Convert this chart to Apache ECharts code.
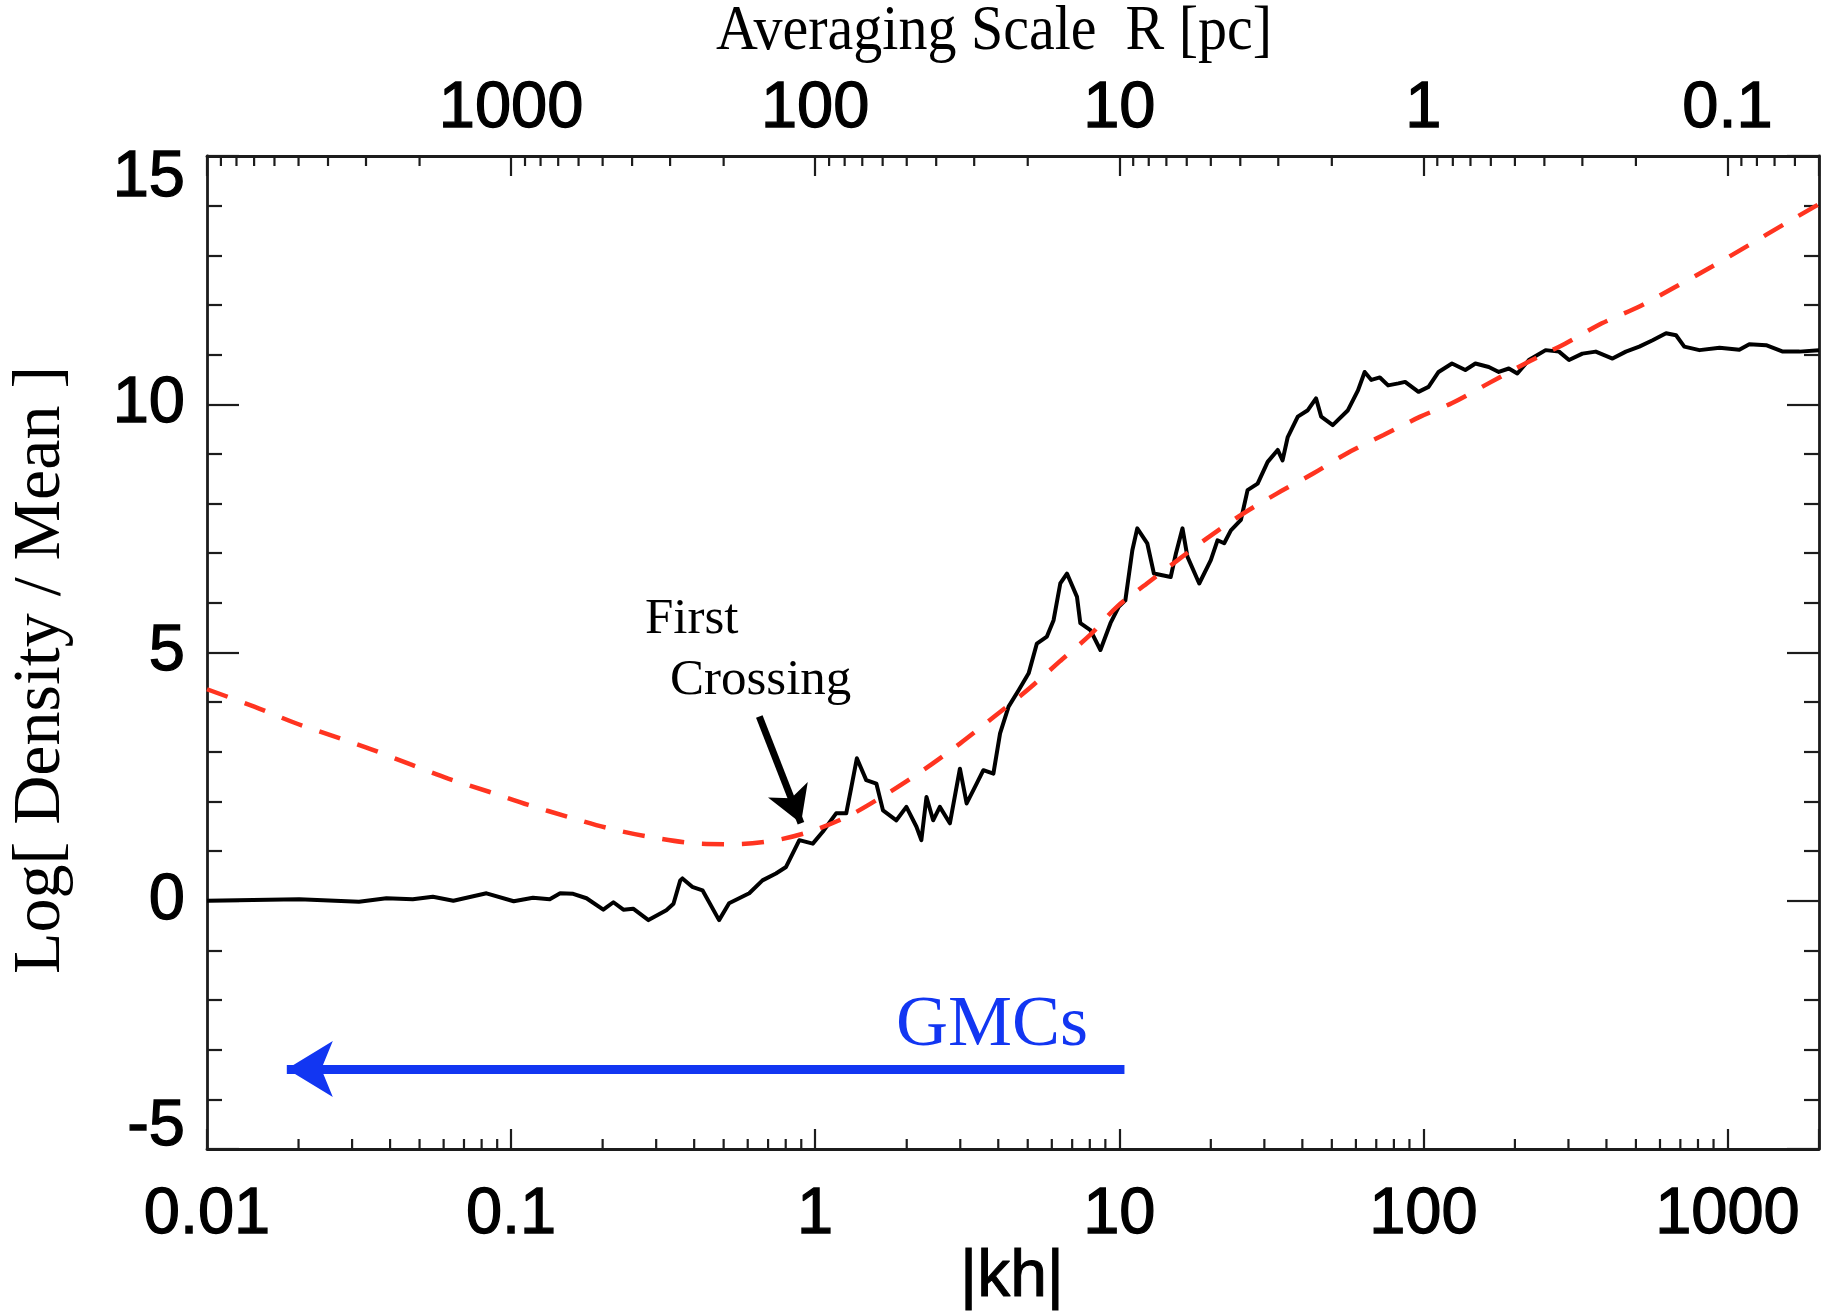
<!DOCTYPE html>
<html>
<head>
<meta charset="utf-8">
<script src="https://cdn.jsdelivr.net/npm/echarts@6/dist/echarts.min.js"></script>
<style>
  html, body { margin: 0; padding: 0; background: #fff; }
  #chart { width: 1834px; height: 1315px; }
</style>
</head>
<body>
<div id="chart"></div>
<script>
// Density contrast along one random walk in |kh|, and the critical density curve.
const khWalk = [0.01, 0.0201, 0.0316, 0.0389, 0.0475, 0.0553, 0.0646, 0.0830, 0.102, 0.118,
  0.134, 0.145, 0.160, 0.177, 0.201, 0.217, 0.234, 0.252, 0.283, 0.324,
  0.342, 0.360, 0.366, 0.394, 0.426, 0.483, 0.521, 0.607, 0.671, 0.743,
  0.802, 0.843, 0.887, 0.982, 1.059, 1.172, 1.265, 1.315, 1.371, 1.472,
  1.589, 1.671, 1.849, 1.995, 2.153, 2.234, 2.323, 2.443, 2.570, 2.773,
  2.992, 3.148, 3.396, 3.573, 3.855, 4.055, 4.325, 4.667, 5.035, 5.358,
  5.781, 6.081, 6.397, 6.730, 7.261, 7.447, 8.035, 8.670, 9.354, 9.954,
  10.47, 11.04, 11.46, 12.36, 13.00, 14.76, 15.35, 16.14, 16.75, 18.32,
  20.00, 21.04, 22.13, 23.28, 25.12, 26.42, 28.51, 30.76, 33.19, 34.43,
  35.81, 38.64, 41.69, 44.36, 46.13, 50.35, 56.49, 60.95, 64.12, 67.45,
  71.94, 76.56, 82.79, 87.10, 96.38, 104.0, 112.2, 124.2, 137.4, 148.3,
  164.1, 177.0, 191.0, 203.7, 222.3, 252.4, 279.3, 301.3, 333.4, 368.9,
  418.8, 463.4, 512.9, 567.5, 628.1, 677.5, 721.1, 809.1, 941.9, 1094,
  1180, 1340, 1521, 1726, 2000];
const logDensityWalk = [0, 0.03, -0.02, 0.05, 0.03, 0.08, 0.0, 0.15, -0.01, 0.06,
  0.03, 0.15, 0.14, 0.05, -0.18, -0.03, -0.18, -0.16, -0.39, -0.19,
  -0.06, 0.41, 0.45, 0.28, 0.21, -0.39, -0.05, 0.15, 0.41, 0.55,
  0.68, 0.95, 1.22, 1.15, 1.39, 1.76, 1.76, 2.29, 2.87, 2.43,
  2.36, 1.82, 1.62, 1.89, 1.49, 1.22, 2.09, 1.62, 1.89, 1.56,
  2.66, 1.96, 2.36, 2.63, 2.56, 3.37, 3.91, 4.24, 4.58, 5.18,
  5.32, 5.65, 6.39, 6.59, 6.12, 5.59, 5.45, 5.05, 5.59, 5.92,
  6.05, 7.06, 7.50, 7.20, 6.59, 6.52, 6.99, 7.50, 6.93, 6.39,
  6.86, 7.26, 7.20, 7.46, 7.67, 8.27, 8.40, 8.84, 9.08, 8.87,
  9.34, 9.75, 9.88, 10.12, 9.75, 9.58, 9.88, 10.28, 10.65, 10.49,
  10.54, 10.38, 10.42, 10.45, 10.25, 10.35, 10.65, 10.82, 10.69, 10.82,
  10.75, 10.65, 10.72, 10.62, 10.89, 11.09, 11.06, 10.89, 11.02, 11.06,
  10.92, 11.06, 11.16, 11.29, 11.43, 11.39, 11.16, 11.09, 11.14, 11.10,
  11.21, 11.19, 11.06, 11.06, 11.09];

const khCrit = [0.01, 0.0143, 0.0195, 0.0259, 0.0347, 0.0465, 0.0621, 0.0851, 0.114, 0.154,
  0.209, 0.283, 0.417, 0.550, 0.728, 0.959, 1.300, 1.758, 2.265, 2.999,
  3.864, 4.977, 6.397, 8.035, 9.817, 12.33, 15.49, 19.41, 25.59, 32.96,
  43.55, 55.98, 73.96, 97.72, 123.9, 163.7, 216.3, 292.4, 386.4, 509.3,
  673.0, 887.2, 1172, 1549, 2000];
const logDensityCrit = [4.26, 3.91, 3.58, 3.32, 3.05, 2.75, 2.46, 2.19, 1.93, 1.69,
  1.46, 1.29, 1.15, 1.14, 1.21, 1.39, 1.72, 2.19, 2.63, 3.17,
  3.70, 4.24, 4.83, 5.36, 5.92, 6.39, 6.85, 7.30, 7.80, 8.20,
  8.61, 9.01, 9.38, 9.75, 10.02, 10.42, 10.82, 11.22, 11.63, 11.96,
  12.36, 12.77, 13.20, 13.64, 14.03];

// Decade labels: |kh| along the bottom, averaging scale R [pc] along the top
const khTickLabels = ['0.01', '0.1', '1', '10', '100', '1000'];
const radiusTickLabels = ['1000', '100', '10', '1', '0.1'];
const densityTicks = { min: -5, max: 15, step: 5 };

// "First Crossing" pointer and the GMC range arrow, in data units
const crossingArrow = [[0.655, 3.71], [0.898, 1.56]];
const gmcArrow = [[10.4, -3.39], [0.0183, -3.39]];

const KH_MIN = 0.01, KH_MAX = 2000;
const AXIS_COLOR = '#1c1c1c';
const SANS = '"Liberation Sans", Arial, Helvetica, sans-serif';
const SERIF = '"Liberation Serif", "Times New Roman", serif';
const LABEL_SIZE = 65;

// Minor tick positions: 2..9 per decade in |kh| (bottom) and in R = 100/|kh| (top)
const minorTicks = [];
for (let n = -3; n <= 4; n++) {
  for (let m = 2; m <= 9; m++) {
    const kh = m * Math.pow(10, n);
    if (kh > KH_MIN && kh < KH_MAX) minorTicks.push([kh, 0]);
    const khTop = 100 / (m * Math.pow(10, n));
    if (khTop > KH_MIN && khTop < KH_MAX) minorTicks.push([khTop, 1]);
  }
}

function decadeIndex(v) {
  const e = Math.log10(v);
  const r = Math.round(e);
  return Math.abs(e - r) < 1e-6 ? r : null;
}

const chart = echarts.init(document.getElementById('chart'), null, { renderer: 'canvas' });

const axisLine = { show: true, onZero: false, lineStyle: { color: AXIS_COLOR, width: 2.8 } };
const tickStyle = { color: AXIS_COLOR, width: 2.2 };
const labelFont = {
  fontFamily: SANS, fontSize: LABEL_SIZE, color: '#000',
  textBorderColor: '#000', textBorderWidth: 1.3
};
const endLabelRich = {
  top: Object.assign({ padding: [44, 0, 0, 0] }, labelFont),
  bot: Object.assign({ padding: [0, 0, 44, 0] }, labelFont),
  mid: Object.assign({}, labelFont)
};

chart.setOption({
  animation: false,
  backgroundColor: '#ffffff',
  grid: { left: 207, top: 156, width: 1612, height: 993, containLabel: false },
  xAxis: [
    {
      type: 'log', logBase: 10, min: KH_MIN, max: KH_MAX, position: 'bottom',
      axisLine: axisLine,
      axisTick: { show: true, inside: true, length: 20, lineStyle: tickStyle },
      splitLine: { show: false },
      axisLabel: Object.assign({
        interval: 0, margin: 34,
        formatter: function (v) {
          const r = decadeIndex(v);
          return r === null ? '' : (khTickLabels[r + 2] || '');
        }
      }, labelFont)
    },
    {
      type: 'log', logBase: 10, min: KH_MIN, max: KH_MAX, position: 'top',
      axisLine: axisLine,
      axisTick: { show: true, inside: true, length: 20, lineStyle: tickStyle },
      splitLine: { show: false },
      axisLabel: Object.assign({
        interval: 0, margin: 14,
        formatter: function (v) {
          const r = decadeIndex(v);
          return r === null ? '' : (radiusTickLabels[r + 1] || '');
        }
      }, labelFont)
    }
  ],
  yAxis: [
    {
      type: 'value', position: 'left',
      min: densityTicks.min, max: densityTicks.max, interval: densityTicks.step,
      axisLine: axisLine,
      axisTick: { show: true, inside: true, length: 32, lineStyle: tickStyle },
      minorTick: { show: true, splitNumber: 5, length: 15, lineStyle: tickStyle },
      splitLine: { show: false },
      axisLabel: Object.assign({
        margin: 22,
        formatter: function (v) {
          if (v === densityTicks.max) return '{top|' + v + '}';
          if (v === densityTicks.min) return '{bot|' + v + '}';
          return '{mid|' + v + '}';
        },
        rich: endLabelRich
      }, labelFont)
    },
    {
      type: 'value', position: 'right',
      min: densityTicks.min, max: densityTicks.max, interval: densityTicks.step,
      axisLine: axisLine,
      axisTick: { show: true, inside: true, length: 32, lineStyle: tickStyle },
      minorTick: { show: true, splitNumber: 5, length: 15, lineStyle: tickStyle },
      splitLine: { show: false },
      axisLabel: { show: false }
    }
  ],
  series: [
    {
      name: 'minor ticks', type: 'custom', xAxisIndex: 0, yAxisIndex: 0,
      data: minorTicks, clip: false, silent: true, z: 5,
      encode: { x: 0, y: 1 },
      renderItem: function (params, api) {
        const x = api.coord([api.value(0), 0])[0];
        const cs = params.coordSys;
        const bottom = api.value(1) === 0;
        const y0 = bottom ? cs.y + cs.height : cs.y;
        const y1 = bottom ? y0 - 10 : y0 + 10;
        return { type: 'line', shape: { x1: x, y1: y0, x2: x, y2: y1 }, style: { stroke: AXIS_COLOR, lineWidth: 2.2 } };
      }
    },
    {
      name: 'random walk', type: 'line', xAxisIndex: 0, yAxisIndex: 0,
      data: khWalk.map((k, i) => [k, logDensityWalk[i]]),
      showSymbol: false, symbol: 'none', silent: true, z: 3,
      lineStyle: { color: '#000000', width: 4, join: 'round' }
    },
    {
      name: 'critical density', type: 'line', xAxisIndex: 0, yAxisIndex: 0,
      data: khCrit.map((k, i) => [k, logDensityCrit[i]]),
      smooth: 0.3, showSymbol: false, symbol: 'none', silent: true, z: 4,
      lineStyle: { color: '#ff3420', width: 4.5, type: [22, 18] }
    },
    {
      name: 'annotations', type: 'line', xAxisIndex: 0, yAxisIndex: 0,
      data: [], silent: true, z: 6,
      markLine: {
        silent: true, animation: false, precision: 4,
        label: { show: false },
        emphasis: { disabled: true },
        data: [
          [
            { coord: crossingArrow[0], symbol: 'none', lineStyle: { color: '#000', width: 7, type: 'solid' } },
            { coord: crossingArrow[1], symbol: 'arrow', symbolSize: [32, 36] }
          ],
          [
            { coord: gmcArrow[0], symbol: 'none', lineStyle: { color: '#1236f2', width: 9, type: 'solid' } },
            { coord: gmcArrow[1], symbol: 'arrow', symbolSize: [42, 46] }
          ]
        ]
      }
    }
  ],
  graphic: [
    {
      type: 'text', x: 994, y: 33, scaleY: 1.08, silent: true,
      style: { text: 'Averaging Scale  R [pc]', font: '58px ' + SERIF, fill: '#000', align: 'center', verticalAlign: 'middle' }
    },
    {
      type: 'text', x: 41, y: 670, rotation: Math.PI / 2, silent: true,
      style: { text: 'Log[ Density / Mean ]', font: '68px ' + SERIF, fill: '#000', align: 'center', verticalAlign: 'middle' }
    },
    {
      type: 'text', x: 1012, y: 1278, silent: true,
      style: { text: '|kh|', font: '66px ' + SANS, fill: '#000', align: 'center', verticalAlign: 'middle', stroke: '#000', lineWidth: 1 }
    },
    {
      type: 'text', x: 645, y: 620, silent: true,
      style: { text: 'First', font: '51px ' + SERIF, fill: '#000', align: 'left', verticalAlign: 'middle' }
    },
    {
      type: 'text', x: 670, y: 681, silent: true,
      style: { text: 'Crossing', font: '51px ' + SERIF, fill: '#000', align: 'left', verticalAlign: 'middle' }
    },
    {
      type: 'text', x: 896, y: 1026, silent: true,
      style: { text: 'GMCs', font: '72px ' + SERIF, fill: '#1236f2', align: 'left', verticalAlign: 'middle' }
    }
  ]
});
</script>
</body>
</html>
